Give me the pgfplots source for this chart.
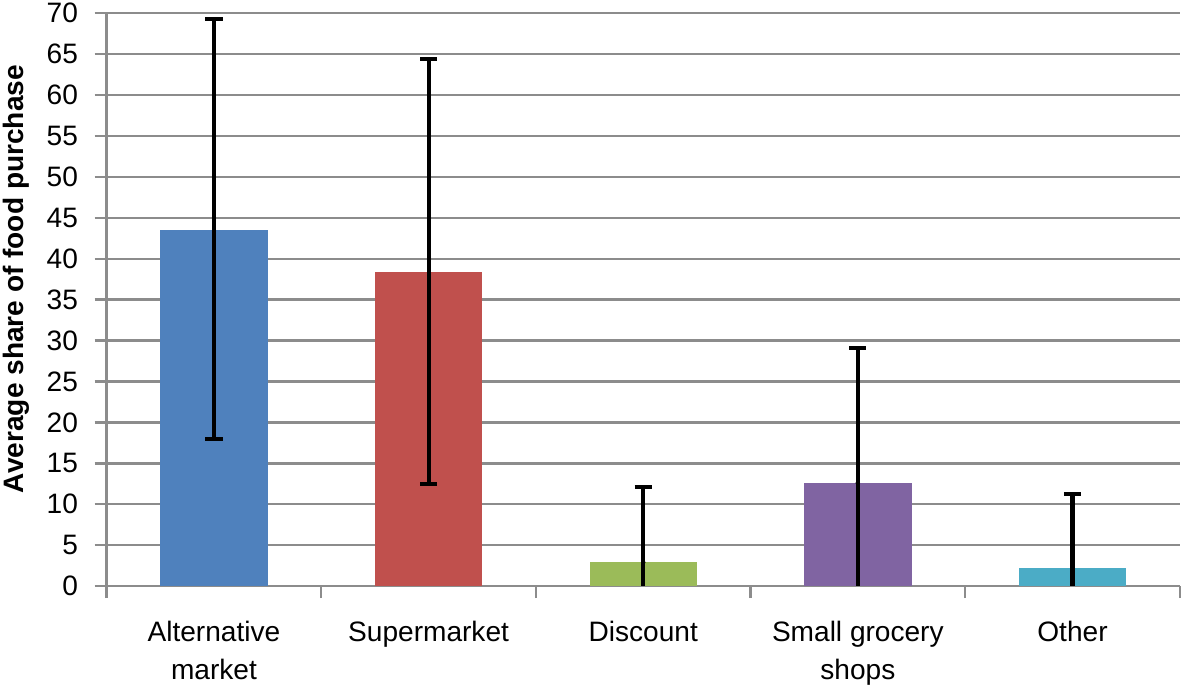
\documentclass[border=0pt]{standalone}
\usepackage{pgfplots}
\pgfplotsset{compat=1.18}
\usepackage{fontspec}
\setmainfont{Liberation Sans}
\definecolor{c1}{HTML}{4F81BD}
\definecolor{c2}{HTML}{C0504D}
\definecolor{c3}{HTML}{9BBB59}
\definecolor{c4}{HTML}{8064A2}
\definecolor{c5}{HTML}{4BACC6}
\definecolor{gridg}{HTML}{8C8C8C}
\begin{document}
\begin{tikzpicture}
\begin{axis}[
  scale only axis,
  width=1066bp, height=569bp,
  xmin=-0.5, xmax=4.5, ymin=0, ymax=70,
  axis x line*=bottom, axis y line*=left,
  axis line style={gridg, line width=2.4bp},
  ytick={0,5,...,70},
  ymajorgrids,
  grid style={gridg, line width=2.4bp},
  xtick={0,1,2,3,4},
  xticklabels={Alternative\\market, Supermarket, Discount, Small grocery\\shops, Other},
  minor xtick={-0.5,0.5,1.5,2.5,3.5,4.5},
  major x tick style={draw=none},
  minor x tick style={gridg, line width=2.4bp},
  major y tick style={gridg, line width=2.4bp},
  tick align=outside,
  major tick length=12bp,
  minor tick length=12bp,
  xticklabel style={align=center, font=\fontsize{28}{38}\selectfont, yshift=-19bp},
  yticklabel style={font=\fontsize{28}{30}\selectfont, xshift=-13bp},
  ylabel={\textbf{Average share of food purchase}},
  ylabel style={font=\fontsize{28}{30}\selectfont, anchor=center, at={(axis description cs:-0.084,0.536)}},
  /pgf/number format/assume math mode=true,
  clip=false,
  error bars/error bar style={black, line width=4bp},
  error bars/error mark options={black, rotate=90, mark size=8.5bp, line width=4bp},
]
\addplot[ybar, bar width=0.5, bar shift=0pt, fill=c1, draw=none,
  error bars/.cd, y dir=both, y explicit]
  coordinates {(0,43.5) += (0,25.8) -= (0,25.5)};
\addplot[ybar, bar width=0.5, bar shift=0pt, fill=c2, draw=none,
  error bars/.cd, y dir=both, y explicit]
  coordinates {(1,38.4) += (0,26.0) -= (0,25.9)};
\addplot[ybar, bar width=0.5, bar shift=0pt, fill=c3, draw=none,
  error bars/.cd, y dir=plus, y explicit]
  coordinates {(2,2.9) += (0,9.2)};
\addplot[ybar, bar width=0.5, bar shift=0pt, fill=c4, draw=none,
  error bars/.cd, y dir=plus, y explicit]
  coordinates {(3,12.6) += (0,16.5)};
\addplot[ybar, bar width=0.5, bar shift=0pt, fill=c5, draw=none,
  error bars/.cd, y dir=plus, y explicit]
  coordinates {(4,2.2) += (0,9.0)};
\addplot[only marks, mark=none,
  error bars/.cd, y dir=minus, y explicit, error mark=none]
  coordinates {(2,2.9) -= (0,2.9) (3,12.6) -= (0,12.6) (4,2.2) -= (0,2.2)};
\end{axis}
\end{tikzpicture}
\end{document}
